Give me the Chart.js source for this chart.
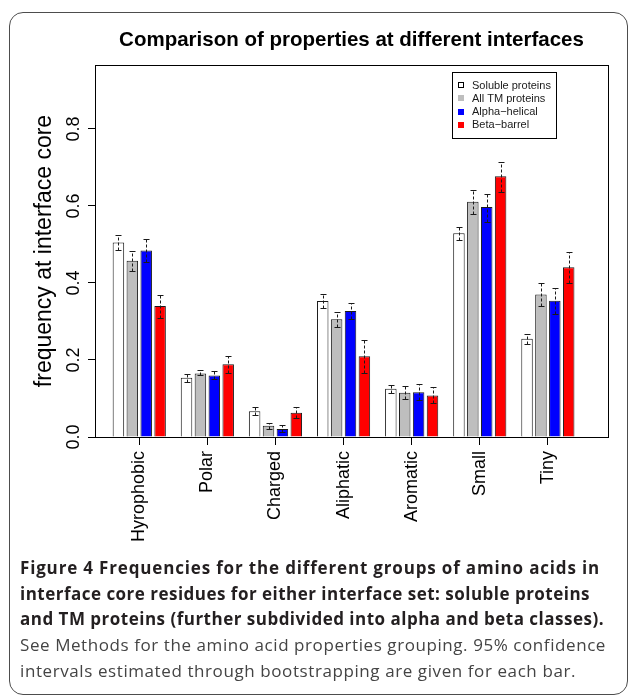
<!DOCTYPE html>
<html><head><meta charset="utf-8">
<script src="https://cdn.jsdelivr.net/npm/chart.js@4.4.1/dist/chart.umd.min.js"></script>
<style>
html,body{margin:0;padding:0;background:#fff;width:629px;height:695px;overflow:hidden;}
#frame{position:absolute;left:9px;top:12px;width:619px;height:683px;box-sizing:border-box;border:1.5px solid #4d4d4d;border-radius:14px;}
#c{position:absolute;left:0;top:0;}
#caption{position:absolute;left:20px;top:555px;font-family:'Open Sans',sans-serif;font-size:17px;line-height:25.7px;white-space:nowrap;}
#caption div{display:block;}
.b{font-weight:bold;color:#231f20;}
.n{color:#444;}
</style></head>
<body>
<div id="frame"></div>
<canvas id="c" width="629" height="556"></canvas>
<div id="caption">
<div class="b" data-w="580">Figure 4 Frequencies for the different groups of amino acids in</div>
<div class="b" data-w="570">interface core residues for either interface set: soluble proteins</div>
<div class="b" data-w="584">and TM proteins (further subdivided into alpha and beta classes).</div>
<div class="n" data-w="586">See Methods for the amino acid properties grouping. 95% confidence</div>
<div class="n" data-w="556">intervals estimated through bootstrapping are given for each bar.</div>
</div>
<script>
const categories = ['Hyrophobic', 'Polar', 'Charged', 'Aliphatic', 'Aromatic', 'Small', 'Tiny'];
const seriesNames = ['Soluble proteins', 'All TM proteins', 'Alpha\u2212helical', 'Beta\u2212barrel'];
const yTicks = [0, 0.2, 0.4, 0.6, 0.8];

const soluble   = [0.505, 0.154, 0.067, 0.353, 0.125, 0.529, 0.255];
const allTM     = [0.458, 0.165, 0.029, 0.306, 0.115, 0.611, 0.370];
const alpha     = [0.484, 0.160, 0.021, 0.327, 0.116, 0.597, 0.354];
const beta      = [0.340, 0.189, 0.063, 0.210, 0.108, 0.677, 0.441];

const solubleLo = [0.486, 0.143, 0.058, 0.336, 0.114, 0.512, 0.242];
const solubleHi = [0.525, 0.164, 0.078, 0.371, 0.134, 0.545, 0.268];
const allTMLo   = [0.431, 0.162, 0.022, 0.286, 0.099, 0.578, 0.340];
const allTMHi   = [0.483, 0.174, 0.036, 0.324, 0.132, 0.641, 0.400];
const alphaLo   = [0.454, 0.151, 0.013, 0.306, 0.096, 0.558, 0.319];
const alphaHi   = [0.513, 0.171, 0.030, 0.348, 0.138, 0.631, 0.387];
const betaLo    = [0.309, 0.165, 0.049, 0.167, 0.089, 0.637, 0.399];
const betaHi    = [0.369, 0.210, 0.078, 0.252, 0.130, 0.715, 0.480];

const seriesValues = [soluble, allTM, alpha, beta];
const seriesLow = [solubleLo, allTMLo, alphaLo, betaLo];
const seriesHigh = [solubleHi, allTMHi, alphaHi, betaHi];
const seriesColors = ['#ffffff', '#bebebe', '#0000ff', '#ff0000'];

const FONT = "'Liberation Sans', Arial, Helvetica, sans-serif";

const errorBars = {
  id: 'errorBars',
  afterDatasetsDraw(chart) {
    const ctx = chart.ctx, ys = chart.scales.y;
    ctx.save();
    ctx.strokeStyle = '#1a1a1a';
    ctx.lineWidth = 1;
    chart.data.datasets.forEach((ds, di) => {
      const meta = chart.getDatasetMeta(di);
      meta.data.forEach((el, i) => {
        const x = Math.round(el.x) + 0.5;
        const yl = Math.round(ys.getPixelForValue(ds.errLow[i])) + 0.5;
        const yh = Math.round(ys.getPixelForValue(ds.errHigh[i])) + 0.5;
        ctx.setLineDash([3, 2]);
        ctx.beginPath(); ctx.moveTo(x, yl); ctx.lineTo(x, yh); ctx.stroke();
        ctx.setLineDash([]);
        ctx.beginPath();
        ctx.moveTo(x - 3, yh); ctx.lineTo(x + 3, yh);
        ctx.moveTo(x - 3, yl); ctx.lineTo(x + 3, yl);
        ctx.stroke();
      });
    });
    ctx.restore();
  }
};

const plotBox = {
  id: 'plotBox',
  afterDraw(chart) {
    const {ctx, chartArea: a} = chart;
    ctx.save();
    ctx.strokeStyle = '#000';
    ctx.lineWidth = 1;
    ctx.strokeRect(Math.round(a.left) + 0.5, Math.round(a.top) + 0.5, Math.round(a.right - a.left), Math.round(a.bottom - a.top));
    ctx.restore();
  }
};

const boxLegend = {
  id: 'boxLegend',
  afterDraw(chart) {
    const {ctx, chartArea: a} = chart;
    const left = Math.round(a.right - 156), top = Math.round(a.top + 7);
    const w = 104, h = 66;
    ctx.save();
    ctx.strokeStyle = '#000';
    ctx.lineWidth = 1;
    ctx.fillStyle = '#fff';
    ctx.fillRect(left + 0.5, top + 0.5, w, h);
    ctx.strokeRect(left + 0.5, top + 0.5, w, h);
    ctx.font = '11px ' + FONT;
    ctx.textBaseline = 'middle';
    chart.data.datasets.forEach((ds, k) => {
      const cy = top + 13 + k * 13.3;
      if (k === 0) {
        ctx.fillStyle = '#fff';
        ctx.fillRect(left + 6.5, Math.round(cy - 3) + 0.5, 5, 5);
        ctx.strokeStyle = '#000';
        ctx.strokeRect(left + 6.5, Math.round(cy - 3) + 0.5, 5, 5);
      } else {
        ctx.fillStyle = ds.backgroundColor;
        ctx.fillRect(left + 6, Math.round(cy - 3), 6, 6);
      }
      ctx.fillStyle = '#1a1a1a';
      ctx.fillText(ds.label, left + 20, cy + 0.5);
    });
    ctx.restore();
  }
};

new Chart(document.getElementById('c'), {
  type: 'bar',
  data: {
    datasets: seriesNames.map((name, k) => ({
      label: name,
      data: seriesValues[k].map((v, i) => ({x: i, y: v})),
      errLow: seriesLow[k],
      errHigh: seriesHigh[k],
      backgroundColor: seriesColors[k],
      borderColor: '#1a1a1a',
      borderWidth: 1,
      categoryPercentage: 0.816,
      barPercentage: 0.827
    }))
  },
  options: {
    responsive: false,
    animation: false,
    devicePixelRatio: 1,
    layout: {padding: {left: 0, right: 21, top: 0, bottom: 0}},
    plugins: {
      legend: {display: false},
      tooltip: {enabled: false},
      title: {
        display: true,
        text: 'Comparison of properties at different interfaces',
        fullSize: false,
        color: '#000',
        font: {size: 20.5, weight: 'bold', family: FONT, lineHeight: 1.2},
        padding: {top: 28, bottom: 12.4}
      }
    },
    scales: {
      x: {
        type: 'linear',
        min: -0.65,
        max: 6.883,
        offset: false,
        afterBuildTicks: s => { s.ticks = categories.map((_, i) => ({value: i})); },
        afterFit: s => { s.height = 119; },
        ticks: {
          autoSkip: false, minRotation: 90, maxRotation: 90, padding: 6,
          color: '#000', font: {size: 18, family: FONT},
          callback: v => categories[v]
        },
        grid: {display: true, offset: false, drawOnChartArea: false, drawTicks: true, tickLength: 8, color: '#000'},
        border: {display: false}
      },
      y: {
        min: 0,
        max: 0.966,
        afterBuildTicks: s => { s.ticks = yTicks.map(v => ({value: v})); },
        afterFit: s => { s.width = 95; },
        ticks: {
          minRotation: 90, maxRotation: 90, crossAlign: 'center', padding: 1,
          color: '#000', font: {size: 18, family: FONT},
          callback: v => v.toFixed(1)
        },
        grid: {drawOnChartArea: false, drawTicks: true, tickLength: 7, color: '#000'},
        border: {display: false},
        title: {
          display: true, text: 'frequency at interface core', color: '#000',
          font: {size: 23, family: FONT}, padding: {top: 31, bottom: 0}
        }
      }
    }
  },
  plugins: [errorBars, plotBox, boxLegend]
});

// fit caption lines to the reference widths
(document.fonts ? document.fonts.ready : Promise.resolve()).then(() => {
  document.querySelectorAll('#caption div').forEach(d => {
    const target = +d.dataset.w;
    const span = document.createElement('span');
    span.textContent = d.textContent;
    d.textContent = '';
    d.appendChild(span);
    const wNat = span.getBoundingClientRect().width;
    const n = span.textContent.length;
    d.style.letterSpacing = ((target - wNat) / n).toFixed(3) + 'px';
  });
});
</script>
</body></html>
